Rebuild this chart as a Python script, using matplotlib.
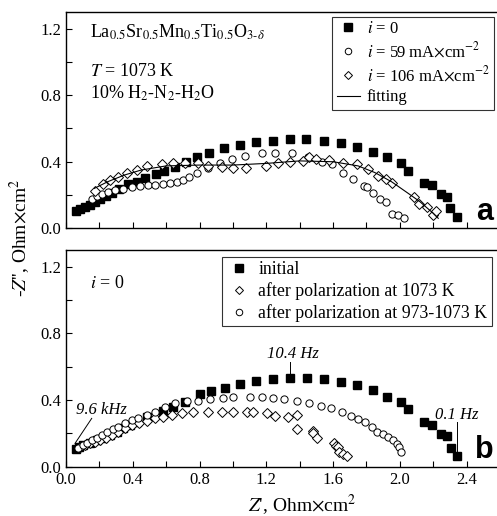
import numpy as np
import matplotlib
matplotlib.use("Agg")
import matplotlib.pyplot as plt
from matplotlib.ticker import MultipleLocator, FormatStrFormatter

plt.rcParams['font.family'] = ['Liberation Serif', 'DejaVu Serif']
plt.rcParams['mathtext.fontset'] = 'stix'

# panel a: i = 0
a0_x = [0.06, 0.084, 0.114, 0.144, 0.174, 0.204, 0.24, 0.274, 0.32, 0.373, 0.423, 0.473, 0.539,
        0.587, 0.653, 0.719, 0.787, 0.859, 0.947, 1.043, 1.138, 1.238, 1.342, 1.438, 1.546,
        1.646, 1.742, 1.838, 1.925, 2.005, 2.051, 2.145, 2.191, 2.245, 2.28, 2.30, 2.341]
a0_y = [0.105, 0.114, 0.128, 0.142, 0.158, 0.174, 0.192, 0.21, 0.238, 0.266, 0.28, 0.30, 0.326,
        0.346, 0.37, 0.40, 0.43, 0.453, 0.48, 0.50, 0.52, 0.526, 0.534, 0.534, 0.526,
        0.51, 0.49, 0.46, 0.426, 0.39, 0.346, 0.274, 0.26, 0.206, 0.186, 0.12, 0.07]

# panel a: i = 59 mA/cm2
a59_x = [0.154, 0.184, 0.214, 0.254, 0.294, 0.343, 0.393, 0.443, 0.493, 0.533, 0.583, 0.623,
         0.663, 0.699, 0.735, 0.787, 0.853, 0.923, 0.993, 1.073, 1.172, 1.252, 1.356, 1.452,
         1.532, 1.592, 1.662, 1.722, 1.786, 1.802, 1.841, 1.881, 1.917, 1.951, 1.991, 2.025]
a59_y = [0.174, 0.194, 0.206, 0.22, 0.23, 0.238, 0.246, 0.254, 0.258, 0.258, 0.264, 0.27,
         0.28, 0.29, 0.31, 0.33, 0.36, 0.394, 0.414, 0.434, 0.45, 0.454, 0.45, 0.43,
         0.40, 0.386, 0.334, 0.294, 0.254, 0.246, 0.21, 0.178, 0.158, 0.084, 0.08, 0.06]

# panel a: i = 106 mA/cm2
a106_x = [0.174, 0.223, 0.263, 0.313, 0.363, 0.423, 0.483, 0.573, 0.643, 0.713, 0.793, 0.853,
          0.933, 1.003, 1.078, 1.198, 1.272, 1.342, 1.418, 1.458, 1.498, 1.578, 1.662, 1.742,
          1.812, 1.872, 1.918, 1.952, 2.085, 2.117, 2.165, 2.201, 2.217]
a106_y = [0.226, 0.266, 0.29, 0.31, 0.33, 0.35, 0.374, 0.386, 0.394, 0.39, 0.39, 0.374,
          0.37, 0.36, 0.36, 0.374, 0.39, 0.40, 0.406, 0.426, 0.414, 0.41, 0.394, 0.384,
          0.354, 0.314, 0.294, 0.27, 0.19, 0.146, 0.13, 0.08, 0.106]

# panel a: fitting curve
fit_x = [0.17, 0.25, 0.35, 0.45, 0.6, 0.8, 1.0, 1.2, 1.4, 1.6, 1.75, 1.85, 1.95, 2.05, 2.12, 2.2, 2.23]
fit_y = [0.24, 0.28, 0.32, 0.35, 0.375, 0.38, 0.38, 0.39, 0.405, 0.40, 0.375, 0.335, 0.28, 0.21, 0.16, 0.09, 0.06]

# panel b: initial
bi_x = [0.06, 0.08, 0.104, 0.144, 0.184, 0.223, 0.263, 0.303, 0.343, 0.383, 0.423, 0.483, 0.583,
        0.643, 0.713, 0.803, 0.866, 0.953, 1.043, 1.138, 1.238, 1.342, 1.442, 1.546, 1.646,
        1.742, 1.838, 1.925, 2.005, 2.051, 2.145, 2.191, 2.245, 2.285, 2.305, 2.345]
bi_y = [0.106, 0.116, 0.13, 0.145, 0.16, 0.175, 0.19, 0.21, 0.23, 0.25, 0.27, 0.30, 0.334,
        0.36, 0.39, 0.434, 0.454, 0.474, 0.496, 0.516, 0.524, 0.53, 0.53, 0.524, 0.51,
        0.49, 0.46, 0.42, 0.39, 0.344, 0.27, 0.25, 0.194, 0.186, 0.114, 0.066]

# panel b: after polarization at 1073 K
b1073_x = [0.084, 0.114, 0.144, 0.174, 0.204, 0.24, 0.274, 0.313, 0.353, 0.393, 0.439, 0.483,
           0.533, 0.583, 0.633, 0.693, 0.759, 0.853, 0.933, 1.003, 1.083, 1.122, 1.202, 1.252,
           1.332, 1.382, 1.382, 1.478, 1.482, 1.506, 1.606, 1.618, 1.632, 1.638, 1.662, 1.686]
b1073_y = [0.12, 0.13, 0.14, 0.15, 0.16, 0.174, 0.19, 0.21, 0.23, 0.25, 0.26, 0.276,
           0.29, 0.30, 0.31, 0.32, 0.326, 0.33, 0.33, 0.33, 0.33, 0.33, 0.324, 0.304,
           0.30, 0.31, 0.224, 0.216, 0.2, 0.17, 0.14, 0.124, 0.116, 0.09, 0.076, 0.064]

# panel b: after polarization at 973-1073 K
b973_x = [0.074, 0.104, 0.128, 0.154, 0.184, 0.214, 0.243, 0.279, 0.313, 0.353, 0.393, 0.433,
          0.483, 0.533, 0.593, 0.653, 0.723, 0.793, 0.863, 0.939, 1.003, 1.102, 1.172, 1.238,
          1.306, 1.382, 1.458, 1.526, 1.586, 1.652, 1.706, 1.752, 1.792, 1.832, 1.866, 1.902,
          1.931, 1.957, 1.981, 1.997, 2.005]
b973_y = [0.114, 0.13, 0.144, 0.16, 0.174, 0.19, 0.206, 0.226, 0.24, 0.26, 0.28, 0.294,
          0.31, 0.33, 0.36, 0.38, 0.394, 0.394, 0.406, 0.41, 0.42, 0.416, 0.416, 0.41,
          0.404, 0.394, 0.38, 0.364, 0.35, 0.33, 0.304, 0.284, 0.27, 0.24, 0.21, 0.196,
          0.18, 0.16, 0.136, 0.116, 0.09]

fig = plt.figure(figsize=(4.97, 5.16), dpi=100)
# right spine sits just past the image edge, as in the original crop
ax1 = fig.add_axes([0.1328, 0.5576, 0.8793, 0.4191])
ax2 = fig.add_axes([0.1328, 0.0955, 0.8793, 0.4200])

sq = dict(marker='s', ms=6, mfc='black', mec='black', ls='none')
ci = dict(marker='o', ms=5.2, mfc='white', mec='black', mew=0.7, ls='none')
di = dict(marker='D', ms=4.6, mfc='white', mec='black', mew=0.7, ls='none')

ax1.plot(a0_x, a0_y, label='$i$ = 0', **sq)
ax1.plot(a59_x, a59_y, label='$i$ = 59 mA$\\times$cm$^{-2}$', **ci)
ax1.plot(a106_x, a106_y, label='$i$ = 106 mA$\\times$cm$^{-2}$', **di)
ax1.plot(fit_x, fit_y, color='black', lw=0.8, label='fitting')

ax2.plot(bi_x, bi_y, label='initial', **sq)
ax2.plot(b1073_x, b1073_y, label='after polarization at 1073 K', **di)
ax2.plot(b973_x, b973_y, label='after polarization at 973-1073 K', **ci)

for ax in (ax1, ax2):
    ax.set_xlim(0, 2.618)
    ax.set_ylim(0, 1.3)
    ax.xaxis.set_major_locator(MultipleLocator(0.4))
    ax.xaxis.set_minor_locator(MultipleLocator(0.2))
    ax.yaxis.set_major_locator(MultipleLocator(0.4))
    ax.yaxis.set_minor_locator(MultipleLocator(0.2))
    ax.xaxis.set_major_formatter(FormatStrFormatter('%.1f'))
    ax.yaxis.set_major_formatter(FormatStrFormatter('%.1f'))
    ax.tick_params(which='both', direction='in', labelsize=12, length=4, width=0.8)
    for s in ax.spines.values():
        s.set_linewidth(1.0)
ax1.tick_params(labelbottom=False)

leg1 = ax1.legend(loc='upper right', bbox_to_anchor=(0.979, 0.977), fontsize=12, frameon=True,
                  fancybox=False, edgecolor='black', handlelength=1.4, handletextpad=0.4,
                  borderpad=0.25, labelspacing=0.25, borderaxespad=0, markerscale=0.9)
leg1.get_frame().set_linewidth(0.8)
leg2 = ax2.legend(loc='upper right', bbox_to_anchor=(0.974, 0.968), fontsize=12.8, frameon=True,
                  fancybox=False, edgecolor='black', handlelength=1.4, handletextpad=0.4,
                  borderpad=0.25, labelspacing=0.22, borderaxespad=0, markerscale=0.9)
leg2.get_frame().set_linewidth(0.8)

ax1.text(0.144, 1.18, 'La$_{0.5}$Sr$_{0.5}$Mn$_{0.5}$Ti$_{0.5}$O$_{3\\text{-}\\delta}$',
         fontsize=13, va='center', ha='left')
ax1.text(0.144, 0.94, '$T$ = 1073 K', fontsize=13, va='center', ha='left')
ax1.text(0.144, 0.81, '10% H$_2$-N$_2$-H$_2$O', fontsize=13, va='center', ha='left')
ax1.text(2.505, 0.1, 'a', family='Liberation Sans', fontweight='bold', fontsize=22,
         ha='center', va='center')

ax2.text(0.144, 1.1, '$i$ = 0', fontsize=13, va='center', ha='left')
ax2.text(2.505, 0.1, 'b', family='Liberation Sans', fontweight='bold', fontsize=22,
         ha='center', va='center')

ax2.text(0.213, 0.34, '9.6 kHz', style='italic', fontsize=12, ha='center', va='center')
ax2.plot([0.054, 0.154], [0.14, 0.29], color='black', lw=0.7)
ax2.text(1.357, 0.676, '10.4 Hz', style='italic', fontsize=12, ha='center', va='center')
ax2.plot([1.342, 1.342], [0.63, 0.55], color='black', lw=0.7)
ax2.text(2.34, 0.31, '0.1 Hz', style='italic', fontsize=12, ha='center', va='center')
ax2.plot([2.341, 2.341], [0.27, 0.07], color='black', lw=0.7)

fig.text(0.04, 1 - 238 / 516, "-$Z$'', Ohm$\\times$cm$^2$", rotation=90, fontsize=14,
         ha='center', va='center')
fig.text(302 / 497, 1 - 505 / 516, "$Z$', Ohm$\\times$cm$^2$", fontsize=14,
         ha='center', va='center')

fig.savefig('out.png', dpi=100)
